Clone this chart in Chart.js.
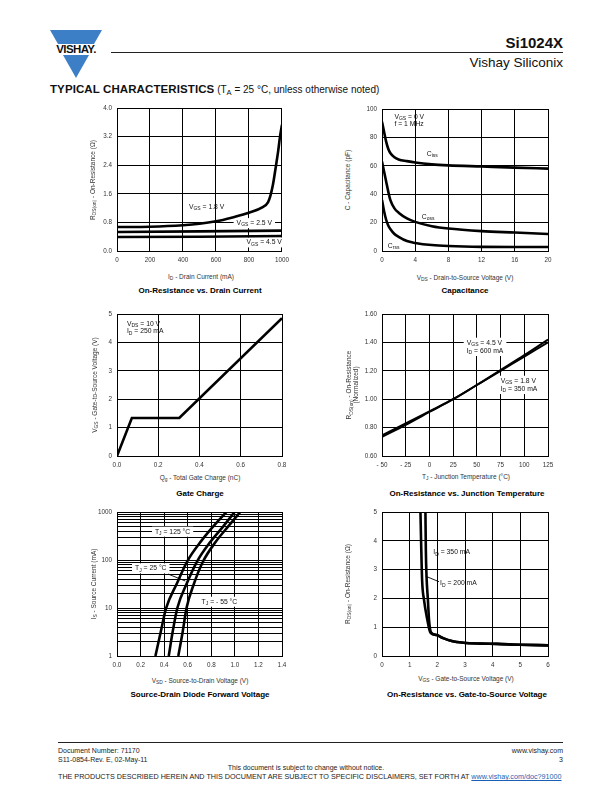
<!DOCTYPE html>
<html lang="en">
<head>
<meta charset="UTF-8">
<title>Si1024X - Typical Characteristics</title>
<script src="https://cdn.jsdelivr.net/npm/chart.js"></script>
<style>
  body { margin:0; width:612px; height:792px; position:relative; background:#fff; overflow:hidden;
         font-family:"Liberation Sans", Arial, sans-serif; color:#111; }
  .abs { position:absolute; white-space:nowrap; }
  .c { transform:translate(-50%,-50%); }
  .r { transform:translate(-50%,-50%) rotate(-90deg); text-align:center; }
  canvas { position:absolute; }
  .axt { font-size:6.5px; color:#333; }
  .ttl { font-size:8px; font-weight:bold; color:#000; }
  sub { font-size:75%; vertical-align:-1.5px; line-height:0; }
  .foot { font-size:7px; color:#222; }
</style>
</head>
<body>

<!-- header -->
<svg class="abs" style="left:49px;top:29px" width="54" height="52" viewBox="0 0 54 52">
  <polygon points="1,1 53,1 45,15 9,15" fill="#3d7fc6"/>
  <polygon points="14,26 40,26 27,49" fill="#3d7fc6"/>
  <text x="27" y="24" text-anchor="middle" font-family="Liberation Sans, Arial" font-weight="bold" font-size="11.5" letter-spacing="-0.6" fill="#111">VISHAY.</text>
</svg>
<div class="abs" style="left:111px;top:52px;width:452px;height:1px;background:#222"></div>
<div class="abs" style="right:49px;top:34px;font-size:15px;font-weight:bold">Si1024X</div>
<div class="abs" style="right:49px;top:55px;font-size:13.5px">Vishay Siliconix</div>
<div class="abs" style="left:50px;top:83px;font-size:10px"><b style="font-size:11.5px;letter-spacing:0.1px">TYPICAL CHARACTERISTICS</b> (T<sub>A</sub> = 25 °C, unless otherwise noted)</div>

<canvas id="c1"></canvas>
<canvas id="c2"></canvas>
<canvas id="c3"></canvas>
<canvas id="c4"></canvas>
<canvas id="c5"></canvas>
<canvas id="c6"></canvas>

<!-- axis titles -->
<div class="abs r axt" style="left:92px;top:180px">R<sub>DS(on)</sub> - On-Resistance (Ω)</div>
<div class="abs c axt" style="left:201px;top:276px">I<sub>D</sub> - Drain Current (mA)</div>
<div class="abs c ttl" style="left:200px;top:290px">On-Resistance vs. Drain Current</div>

<div class="abs r axt" style="left:347px;top:180px">C - Capacitance (pF)</div>
<div class="abs c axt" style="left:465px;top:277px">V<sub>DS</sub> - Drain-to-Source Voltage (V)</div>
<div class="abs c ttl" style="left:465px;top:290px">Capacitance</div>

<div class="abs r axt" style="left:94px;top:385px">V<sub>GS</sub> - Gate-to-Source Voltage (V)</div>
<div class="abs c axt" style="left:200px;top:477px">Q<sub>g</sub> - Total Gate Charge (nC)</div>
<div class="abs c ttl" style="left:200px;top:493px">Gate Charge</div>

<div class="abs r axt" style="left:352px;top:385px;line-height:7px">R<sub>DS(on)</sub> - On-Resistance<br>(Normalized)</div>
<div class="abs c axt" style="left:466px;top:476px">T<sub>J</sub> - Junction Temperature (°C)</div>
<div class="abs c ttl" style="left:467px;top:493px">On-Resistance vs. Junction Temperature</div>

<div class="abs r axt" style="left:93px;top:584px">I<sub>S</sub> - Source Current (mA)</div>
<div class="abs c axt" style="left:200px;top:680px">V<sub>SD</sub> - Source-to-Drain Voltage (V)</div>
<div class="abs c ttl" style="left:200px;top:694px">Source-Drain Diode Forward Voltage</div>

<div class="abs r axt" style="left:347px;top:584px">R<sub>DS(on)</sub> - On-Resistance (Ω)</div>
<div class="abs c axt" style="left:466px;top:678px">V<sub>GS</sub> - Gate-to-Source Voltage (V)</div>
<div class="abs c ttl" style="left:467px;top:694px">On-Resistance vs. Gate-to-Source Voltage</div>

<!-- footer -->
<div class="abs" style="left:58px;top:742px;width:505px;height:1px;background:#222"></div>
<div class="abs foot" style="left:58px;top:747px">Document Number: 71170</div>
<div class="abs foot" style="left:58px;top:756px">S11-0854-Rev. E, 02-May-11</div>
<div class="abs foot" style="right:49px;top:747px">www.vishay.com</div>
<div class="abs foot" style="right:49px;top:756px">3</div>
<div class="abs foot" style="left:306px;top:764px;transform:translateX(-50%)">This document is subject to change without notice.</div>
<div class="abs foot" style="left:58px;top:772px;font-size:7.2px">THE PRODUCTS DESCRIBED HEREIN AND THIS DOCUMENT ARE SUBJECT TO SPECIFIC DISCLAIMERS, SET FORTH AT <span style="color:#1a5fb4;text-decoration:underline">www.vishay.com/doc?91000</span></div>

<script>
// ---- data ----

// On-Resistance vs. Drain Current
const drainI_18 = [0, 200, 400, 500, 600, 700, 800, 880, 915, 930, 945, 964, 977, 988, 1000];
const rdsOn_18  = [0.67, 0.68, 0.72, 0.76, 0.83, 0.94, 1.07, 1.22, 1.36, 1.55, 1.85, 2.4, 2.8, 3.2, 3.53];
const drainI_25 = [0, 500, 1000];
const rdsOn_25  = [0.53, 0.55, 0.57];
const drainI_45 = [0, 500, 1000];
const rdsOn_45  = [0.39, 0.40, 0.42];

// Capacitance
const vds     = [0, 0.25, 0.5, 0.75, 1, 1.5, 2, 3, 4, 6, 8, 12, 16, 20];
const capIss  = [91, 84, 77, 72, 69, 66, 64.5, 63.3, 62.3, 61, 60.3, 59.5, 58.7, 58];
const capOss  = [63, 56, 49, 42, 36, 30, 27, 23, 20.5, 17.5, 15.8, 14, 13, 12];
const capRss  = [36, 28, 22, 18, 15.5, 12, 10, 7, 5.7, 4.2, 3.5, 2.9, 2.8, 2.8];

// Gate charge
const gateQ  = [0, 0.072, 0.302, 0.8];
const gateV  = [0, 1.34, 1.34, 4.85];

// On-Resistance vs. Junction Temperature
const tempJ    = [-50, -25, 0, 25, 50, 75, 100, 125];
const rdsNorm45 = [0.735, 0.82, 0.91, 1.0, 1.1, 1.205, 1.31, 1.42];
const rdsNorm18 = [0.745, 0.83, 0.915, 1.0, 1.1, 1.2, 1.30, 1.40];

// Source-Drain diode forward voltage
const vsd125 = [0.326, 0.371, 0.416, 0.506, 0.596, 0.717, 0.815, 0.928];
const is125  = [1, 3.16, 9.8, 31.6, 94, 253, 496, 1000];
const vsd25  = [0.439, 0.472, 0.512, 0.59, 0.68, 0.793, 0.9, 0.998];
const is25   = [1, 3.16, 10, 31.6, 94, 240, 496, 1000];
const vsdM55 = [0.52, 0.557, 0.59, 0.652, 0.731, 0.838, 0.942, 1.046];
const isM55  = [1, 3.16, 10, 31.6, 94, 240, 496, 1000];
const isDecades = [1, 10, 100, 1000];

// On-Resistance vs. Gate-to-Source Voltage
const vgsA  = [1.39, 1.415, 1.45, 1.52, 1.63, 1.75, 1.97, 2.21, 2.52, 2.94, 3.54, 4.15, 4.99, 6];
const rdsA  = [5, 3.9, 2.63, 1.94, 1.3, 0.81, 0.73, 0.62, 0.52, 0.46, 0.43, 0.42, 0.39, 0.37];
const vgsB  = [1.57, 1.585, 1.61, 1.66, 1.70, 1.79, 1.97, 2.21, 2.52, 2.94, 3.54, 4.15, 4.99, 6];
const rdsB  = [5, 3.67, 2.75, 1.94, 1.25, 0.79, 0.73, 0.62, 0.52, 0.46, 0.43, 0.42, 0.39, 0.37];

// ---- helpers ----
const FONT = '"Liberation Sans", Arial, sans-serif';
Chart.defaults.font.family = FONT;
Chart.defaults.font.size = 6.3;
Chart.defaults.color = '#333';

function pts(xs, ys) { return xs.map((x, i) => ({ x: x, y: ys[i] })); }

function curve(xs, ys, smooth, width) {
  return {
    data: pts(xs, ys), borderColor: '#000', borderWidth: width || 2.6, pointRadius: 0,
    fill: false, tension: 0, cubicInterpolationMode: smooth ? 'monotone' : 'default'
  };
}

function axis(min, max, step, fmt) {
  return {
    type: 'linear', min: min, max: max,
    grid: { color: '#000', lineWidth: 1, drawTicks: false },
    border: { color: '#000', width: 1 },
    ticks: { stepSize: step, padding: 5, autoSkip: false, maxRotation: 0, callback: fmt }
  };
}

// draws text with _{sub} parts, returns width
function rich(ctx, text, x, y, draw) {
  const segs = [];
  const re = /_\{([^}]*)\}/g;
  let last = 0, m;
  while ((m = re.exec(text))) {
    if (m.index > last) segs.push([text.slice(last, m.index), 0]);
    segs.push([m[1], 1]);
    last = re.lastIndex;
  }
  if (last < text.length) segs.push([text.slice(last), 0]);
  let cx = x;
  ctx.textBaseline = 'middle';
  ctx.textAlign = 'left';
  segs.forEach(s => {
    ctx.font = (s[1] ? 5 : 6.8) + 'px ' + FONT;
    if (draw) ctx.fillText(s[0], cx, s[1] ? y + 2 : y);
    cx += ctx.measureText(s[0]).width;
  });
  return cx - x;
}

function notePlugin(notes) {
  return {
    id: 'notes',
    beforeDatasetsDraw(chart) {
      const ctx = chart.ctx, sx = chart.scales.x, sy = chart.scales.y;
      ctx.save();
      (notes.labels || []).forEach(n => {
        const px = sx.getPixelForValue(n.x), py = sy.getPixelForValue(n.y);
        const gap = n.gap || 7.5;
        const w = Math.max(...n.lines.map(t => rich(ctx, t, 0, 0, false)));
        if (n.bg) {
          ctx.fillStyle = '#fff';
          ctx.fillRect(px - 3, py - 5, w + 6, (n.lines.length - 1) * gap + 10);
        }
        ctx.fillStyle = '#111';
        n.lines.forEach((t, i) => rich(ctx, t, px, py + i * gap, true));
      });
      (notes.leaders || []).forEach(l => {
        ctx.beginPath();
        ctx.moveTo(sx.getPixelForValue(l[0]), sy.getPixelForValue(l[1]));
        ctx.lineTo(sx.getPixelForValue(l[2]), sy.getPixelForValue(l[3]));
        ctx.strokeStyle = '#000';
        ctx.lineWidth = 0.9;
        ctx.stroke();
      });
      ctx.restore();
    }
  };
}

// plot box = where the chart area must land on the page
function build(id, box, xAx, yAx, datasets, notes) {
  const cv = document.getElementById(id);
  cv.width = box.r - box.l + 42;
  cv.height = box.b - box.t + 26;
  cv.style.left = (box.l - 30) + 'px';
  cv.style.top = (box.t - 10) + 'px';
  xAx.afterFit = s => { s.height = 16; };
  yAx.afterFit = s => { s.width = 30; };
  return new Chart(cv, {
    type: 'line',
    data: { datasets: datasets },
    options: {
      responsive: false,
      animation: false,
      layout: { padding: { top: 10, right: 12, left: 0, bottom: 0 } },
      scales: { x: xAx, y: yAx },
      plugins: { legend: { display: false }, tooltip: { enabled: false } }
    },
    plugins: [notePlugin(notes || {})]
  });
}

const fix = n => (v => Number(v).toFixed(n));
const plain = v => String(v);

// 1. On-Resistance vs. Drain Current
build('c1', { l: 117, t: 108, r: 282, b: 251 },
  axis(0, 1000, 200, plain), axis(0, 4.0, 0.8, fix(1)),
  [curve(drainI_18, rdsOn_18, true), curve(drainI_25, rdsOn_25, false), curve(drainI_45, rdsOn_45, false)],
  { labels: [
    { x: 436, y: 1.23, lines: ['V_{GS} = 1.8 V'] },
    { x: 725, y: 0.78, lines: ['V_{GS} = 2.5 V'], bg: true },
    { x: 785, y: 0.24, lines: ['V_{GS} = 4.5 V'], bg: true }
  ] });

// 2. Capacitance
build('c2', { l: 382, t: 109, r: 548, b: 251 },
  axis(0, 20, 4, plain), axis(0, 100, 20, plain),
  [curve(vds, capIss, true), curve(vds, capOss, true), curve(vds, capRss, true)],
  { labels: [
    { x: 1.5, y: 94.4, lines: ['V_{GS} = 0 V', 'f = 1 MHz'], gap: 7 },
    { x: 5.4, y: 68.3, lines: ['C_{iss}'] },
    { x: 4.8, y: 24, lines: ['C_{oss}'] },
    { x: 0.7, y: 3.5, lines: ['C_{rss}'] }
  ] });

// 3. Gate Charge
build('c3', { l: 117, t: 314, r: 282, b: 456 },
  axis(0, 0.8, 0.2, fix(1)), axis(0, 5, 1, plain),
  [curve(gateQ, gateV, false)],
  { labels: [{ x: 0.048, y: 4.65, lines: ['V_{DS} = 10 V', 'I_{D} = 250 mA'] }] });

// 4. On-Resistance vs. Junction Temperature
build('c4', { l: 382, t: 314, r: 548, b: 456 },
  axis(-50, 125, 25, v => (v < 0 ? '- ' + Math.abs(v) : String(v))), axis(0.6, 1.6, 0.2, fix(2)),
  [curve(tempJ, rdsNorm45, true, 2), curve(tempJ, rdsNorm18, true, 2)],
  { labels: [
    { x: 39.3, y: 1.398, lines: ['V_{GS} = 4.5 V', 'I_{D} = 600 mA'], bg: true, gap: 8.3 },
    { x: 75.1, y: 1.13, lines: ['V_{GS} = 1.8 V', 'I_{D} = 350 mA'], bg: true, gap: 8.3 }
  ] });

// 5. Source-Drain Diode Forward Voltage (log current axis)
const isTicks = [];
isDecades.forEach(d => { for (let k = 1; k < 10; k++) if (d * k <= 1000) isTicks.push(d * k); });
const yLog = {
  type: 'logarithmic', min: 1, max: 1000,
  grid: { color: '#000', lineWidth: 1, drawTicks: false },
  border: { color: '#000', width: 1 },
  afterBuildTicks: s => { s.ticks = isTicks.map(v => ({ value: v })); },
  ticks: { padding: 5, autoSkip: false, callback: v => (isDecades.includes(v) ? String(v) : '') }
};
build('c5', { l: 117, t: 512, r: 282, b: 656 },
  axis(0, 1.4, 0.2, fix(1)), yLog,
  [curve(vsd125, is125, true), curve(vsd25, is25, true), curve(vsdM55, isM55, true)],
  { labels: [
    { x: 0.322, y: 389, lines: ['T_{J} = 125 °C'], bg: true },
    { x: 0.153, y: 67, lines: ['T_{J} = 25 °C'], bg: true },
    { x: 0.718, y: 13.5, lines: ['T_{J} = - 55 °C'], bg: true }
  ], leaders: [[0.433, 51, 0.58, 36.5]] });

// 6. On-Resistance vs. Gate-to-Source Voltage
build('c6', { l: 382, t: 512, r: 548, b: 656 },
  axis(0, 6, 1, plain), axis(0, 5, 1, plain),
  [curve(vgsA, rdsA, true), curve(vgsB, rdsB, true)],
  { labels: [
    { x: 1.855, y: 3.6, lines: ['I_{D} = 350 mA'] },
    { x: 2.10, y: 2.52, lines: ['I_{D} = 200 mA'] }
  ], leaders: [[1.58, 2.77, 2.06, 2.58]] });
</script>
</body>
</html>
